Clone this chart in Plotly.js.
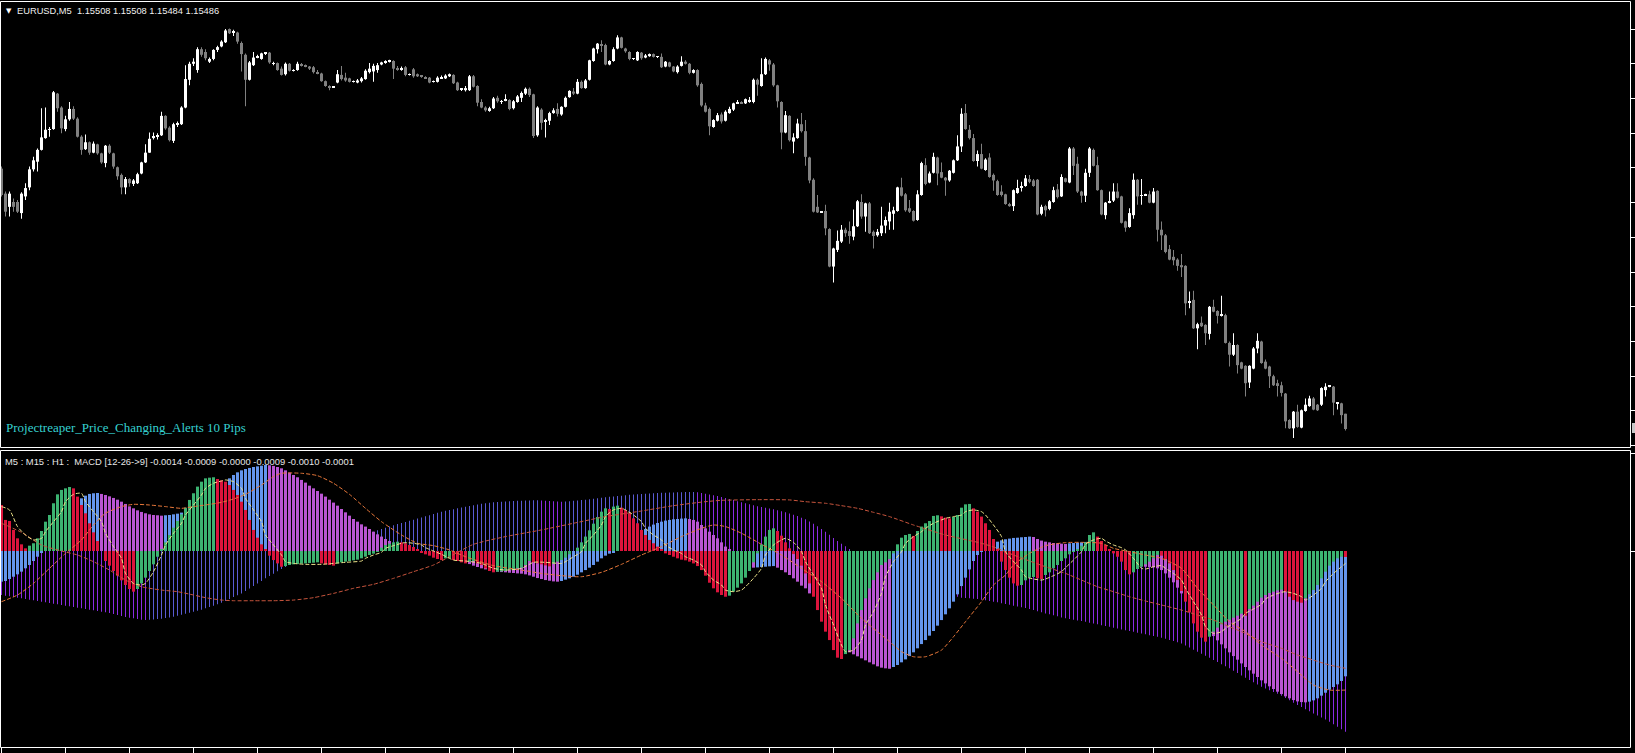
<!DOCTYPE html>
<html><head><meta charset="utf-8">
<script src="https://cdn.plot.ly/plotly-3.0.1.min.js"></script>
<style>html,body{margin:0;padding:0;background:#000;overflow:hidden}#chart{width:1635px;height:753px}</style>
</head><body><div id="chart"></div>
<script>
// ---- EURUSD M5 candles, prices stored as points above 1.15000 ----
const openP = [861,825,806,813,813,797,821,834,860,871,888,905,917,918,969,949,918,932,947,933,907,889,899,884,896,883,869,894,883,863,852,834,846,839,840,854,870,884,905,907,909,937,920,901,924,925,949,989,1012,1003,1033,1029,1015,1019,1032,1037,1043,1062,1057,1057,1042,1025,989,1010,1021,1019,1027,1028,1012,1013,1005,997,1012,1002,1003,1011,1010,1008,1007,1000,998,987,980,978,985,996,992,991,986,985,987,990,1000,1001,1003,1011,1014,1015,1016,1006,1004,1007,996,1004,997,995,993,992,986,986,991,991,994,996,985,975,974,974,994,980,957,949,944,948,963,957,959,960,948,957,963,969,976,968,909,946,929,930,941,947,939,950,964,972,969,986,977,989,1016,1033,1040,1039,1011,1016,1034,1050,1034,1029,1019,1017,1028,1021,1023,1026,1022,1022,1008,1014,1008,1000,1009,1015,1012,999,1003,983,952,947,921,930,939,930,941,946,955,957,955,958,957,989,980,997,1017,1011,981,957,913,937,900,905,925,915,877,845,806,798,800,774,720,744,756,773,771,763,778,813,792,811,770,765,768,779,785,796,800,834,824,804,800,787,823,866,841,855,877,856,848,844,855,873,893,941,917,905,872,882,859,877,852,843,828,824,810,807,826,834,836,846,844,845,796,807,803,813,831,821,847,841,890,868,828,822,855,888,866,830,794,812,815,828,821,785,777,794,845,822,823,824,812,829,773,765,745,734,730,722,721,668,672,631,639,636,623,662,656,649,650,610,593,607,582,577,553,573,602,612,583,576,562,552,549,537,499,487,511,488,512,519,530,521,521,542,547,547,523,523,508];
const highP = [864,828,828,818,816,827,840,864,878,890,948,949,921,973,970,951,937,957,951,935,909,910,900,900,897,884,895,896,884,864,854,849,847,846,855,871,896,913,913,912,943,938,922,927,929,951,1010,1015,1020,1036,1036,1033,1021,1033,1038,1046,1062,1063,1061,1058,1044,1027,1016,1029,1025,1028,1028,1029,1015,1014,1008,1014,1013,1004,1015,1013,1011,1009,1009,1003,999,988,981,980,1003,1009,999,992,988,990,993,1004,1013,1012,1013,1015,1017,1018,1017,1009,1008,1009,998,1006,998,996,994,993,988,994,995,997,998,997,986,977,980,996,996,981,961,951,950,964,966,960,968,961,960,967,972,978,978,969,951,948,933,943,948,955,951,965,974,977,990,988,990,1018,1035,1042,1046,1041,1017,1036,1053,1051,1035,1030,1020,1030,1029,1026,1027,1027,1023,1027,1016,1015,1009,1010,1023,1017,1013,1004,1004,985,956,949,932,941,942,945,950,956,960,958,962,964,991,991,1020,1021,1019,1013,982,958,944,938,912,933,941,931,878,847,823,800,809,775,747,772,780,776,785,802,816,824,812,813,772,774,806,792,812,806,835,848,826,816,801,830,871,876,857,884,878,870,849,859,874,909,948,954,924,911,887,897,876,883,854,845,837,825,812,831,845,842,852,852,846,846,809,809,816,835,839,853,848,892,892,878,829,861,892,890,878,831,813,828,840,840,822,786,804,854,846,846,825,829,833,830,785,767,751,744,732,738,722,684,685,639,648,637,663,672,657,678,652,612,624,608,583,578,578,604,624,613,586,577,564,557,554,538,500,512,521,514,530,534,532,522,546,552,549,548,525,524,508];
const lowP = [821,792,792,799,797,789,816,830,857,857,887,904,907,917,943,912,915,930,931,906,881,888,881,883,881,868,863,882,861,845,824,824,835,836,839,853,869,884,903,903,908,917,900,898,921,924,948,981,1009,999,1022,1017,1013,1017,1029,1036,1042,1055,1052,1041,1001,951,988,1009,1020,1018,1026,1012,1010,1002,995,995,1001,1001,1002,1008,1007,1003,998,997,986,979,974,977,984,988,986,985,985,984,985,989,998,986,999,1010,1012,1014,990,1002,1002,994,995,992,993,992,990,984,985,985,990,990,993,983,973,973,972,973,978,951,948,943,943,947,956,954,958,945,946,956,957,967,964,905,907,917,906,924,940,936,937,949,963,967,968,976,976,988,1015,1027,1029,1010,1010,1015,1033,1034,1028,1017,1018,1016,1018,1020,1022,1021,1021,1006,1007,1007,1000,998,1008,1011,997,998,979,950,942,909,920,929,926,929,940,944,954,954,954,956,955,966,979,996,1002,979,949,889,912,900,883,904,913,865,840,798,797,797,765,719,697,741,754,763,753,758,777,789,770,767,746,763,764,768,773,773,799,821,799,797,785,786,822,837,840,854,837,847,822,842,854,872,885,917,903,871,864,860,858,848,829,822,821,809,806,800,825,828,835,840,835,794,794,792,801,812,818,820,841,840,852,826,812,813,849,864,829,794,788,811,813,818,782,770,776,789,809,809,822,811,811,756,744,739,729,722,714,705,650,660,630,601,633,607,615,654,638,648,609,576,591,566,572,533,545,572,595,580,572,545,548,533,533,487,486,473,488,487,511,518,513,512,519,533,546,506,514,494,484];
const closeP = [823,799,825,806,799,825,833,860,873,888,906,917,918,971,948,919,932,947,933,907,888,899,884,897,883,870,894,884,864,850,834,846,840,844,853,870,884,904,908,909,937,919,902,925,926,949,990,1012,1015,1033,1025,1020,1019,1032,1036,1044,1060,1056,1059,1044,1026,989,1014,1021,1023,1027,1028,1014,1013,1003,996,1012,1002,1003,1012,1009,1008,1005,1000,998,987,980,978,979,997,990,988,986,987,988,991,1002,1005,1009,1010,1014,1016,1017,1005,1004,1006,996,997,994,994,993,991,985,987,992,993,995,997,984,974,976,977,994,979,956,949,945,948,962,958,958,961,947,958,965,970,976,967,908,949,927,931,941,945,940,950,963,973,969,986,977,988,1017,1034,1041,1038,1011,1016,1033,1050,1035,1030,1019,1020,1029,1020,1024,1026,1022,1023,1007,1015,1008,1001,1008,1015,1012,999,1003,981,952,943,922,931,938,929,943,947,955,957,955,961,960,989,982,997,1019,1011,981,958,913,938,902,906,926,915,878,844,799,798,799,775,720,746,757,773,768,764,778,814,792,811,768,764,770,779,787,799,801,834,822,801,799,786,824,869,839,854,878,854,848,844,858,873,893,940,918,905,872,882,861,874,849,844,823,823,810,807,830,833,836,847,842,836,795,806,801,814,830,820,849,842,890,865,828,822,855,890,865,830,795,812,814,828,819,783,776,797,845,821,823,824,812,828,773,765,741,730,729,721,719,667,670,631,637,634,624,662,655,649,651,610,593,607,578,573,552,577,602,613,581,573,562,549,548,538,497,487,511,489,513,521,530,514,513,545,547,548,524,524,506,486];

// ---- MACD values in points (1e-5) ----
const macdM5 = [34.5,23.3,22.5,15.8,9.5,5,2,4,5.8,9.5,15,22,27,35.8,42.5,45.8,47,48,47,40.8,34.5,28.3,20.8,14,7.5,0,-7.5,-11,-15,-18.5,-22,-25.5,-28.5,-30.5,-28.5,-24.3,-20,-15,-10,-4.3,0.8,6.5,12,17.5,22.5,27.5,32.5,38.3,43.3,48.3,52,54.5,55,55.3,54,53,52,49.5,45.8,42,37,30.8,23.3,15.8,10,5,1.5,-3.5,-6.8,-9.3,-11.8,-11.3,-10.5,-10,-9.8,-9.5,-9.3,-9,-8.8,-8.5,-9.3,-10,-10.5,-11,-9.3,-8.5,-8,-7.5,-7,-6.5,-5.5,-4.3,-3,-2,-0.5,2.5,4.5,5.5,6.5,7,6.5,5.8,4.5,3,0.8,-1,-2.5,-3.5,-5,-6,-6.8,-5.5,-5.3,-6.8,-7.5,-8.5,-9.3,-8,-7.5,-9.3,-10.5,-13,-15,-16,-15.5,-15.3,-15,-14.3,-13.5,-13,-12.5,-10.5,-7.5,-8.5,-9.3,-10,-10.8,-11.5,-9.5,-8,-6.8,-5,-2.5,0,2.5,6.5,10.8,15.5,20.5,25.5,29.5,32,31.5,33.3,34,32.5,30.8,28.3,24.5,20.8,15.8,12,8.3,5.8,3.3,0.8,-1.8,-3,-4.3,-5.5,-6.5,-7,-8,-9.3,-11.3,-14.3,-18.5,-23.8,-28,-31,-33,-34.3,-33.5,-30.5,-27.5,-24.3,-20,-15,-8.5,-1.8,5,10.8,15.8,17,15,11.5,6.5,2,-2.3,-6,-11,-16.8,-24.3,-34.3,-44.3,-53,-60.5,-66.8,-74.3,-80,-81,-77.3,-74.3,-65.5,-54.3,-44.3,-35.5,-28,-21.8,-16,-10.5,-8.5,-6,-1.8,5,10,12,12.8,11.3,15,18.3,20.8,22.5,26.3,26.8,26,25,24.5,25.5,27,32.5,35,35.3,32,29.5,25.8,20.8,15.8,9,0.8,-8,-14.3,-20,-24.3,-26,-25.5,-22,-20,-19.5,-20.5,-21,-18,-16,-13,-10.5,-7.5,-5.5,-2.5,-0.5,0.8,4,6.5,12,14,10.8,7.5,4.5,1.5,-1.8,-4.3,-8,-14.3,-17.5,-16,-13.5,-11.8,-10,-8,-5.5,-3,-3.5,-6,-9.3,-14.3,-21.8,-30,-38,-46,-54.3,-60.5,-65,-68,-64.3,-60.5,-57.5,-55,-53,-51.5,-50,-48.5,-47,-48.5,-43.5,-41,-38,-35,-33,-31.5,-30.5,-29.5,-29,-30.5,-34.3,-36.8,-38,-38.8,-35.5,-32.5,-29.3,-25.5,-20.5,-15.5,-11,-8,-5.5,-4.3,-4.5];
const macdM15 = [-23,-22.5,-21,-19.3,-17.5,-15.5,-13,-10.5,-7.5,-4.3,-1,2,5,8.3,12,15.8,20.8,25.8,30.8,35.8,39.5,41.5,42.8,43.3,43.5,42.8,42,41,39.8,38.5,37,35.3,33.5,32,30.5,29.3,28.3,27.5,27,26.8,26.5,26.8,27,27.5,28,28.8,29.5,30.8,32,33.3,34.5,36.5,39,42,45,48.3,51.5,54.5,57,59,60.5,61.5,62.3,63,63.5,64,64.5,64.3,63.8,63,62,60.5,58.8,57,55.3,53.3,51.3,49,47,45,43,40.8,38.5,36.3,34,31.5,29,26.5,24,22,20,18.3,16.5,14.5,12.5,10.8,9,7.5,6,4.5,3.3,2.3,1.5,0.8,0.3,-0.5,-1,-1.5,-2,-2.5,-3,-3.5,-4,-5,-6,-7.3,-8.5,-9.8,-11,-12,-13,-13.8,-14.5,-15,-15.5,-15.8,-16,-16.3,-16.5,-16.8,-17,-17.5,-18.3,-19.3,-20.3,-21,-21.8,-22.3,-22.8,-23,-22.5,-21.5,-20.5,-19.3,-17.8,-16,-14.3,-12.5,-10.5,-8,-5.5,-3.5,-2,-0.8,0.5,2.5,5,7.5,10,12.5,14.8,16.5,18.3,19.8,21,22,22.8,23.3,23.8,24,24.3,24.5,24,23.3,22,19.5,17,14.5,12,9.5,6.5,3.3,0.8,-1.8,-4.3,-6.8,-8.5,-10.5,-12.5,-12.3,-12,-11.8,-11.5,-11.3,-12.5,-14.3,-16,-18,-20.5,-23,-26,-28,-31.8,-33,-38,-45.5,-53,-59.3,-64.3,-68.5,-71.8,-74.3,-76,-77.5,-79,-80.5,-82,-83.5,-85,-86.5,-87.5,-88,-88.3,-87,-85.5,-83.5,-81.3,-78.8,-76,-73,-69.8,-66.8,-63.5,-60,-56,-51.8,-47.5,-43,-38,-32.5,-26.3,-20,-13.8,-7.5,-3,-0.5,2,4,5.8,7,8,8.8,9.3,9.8,10,10.3,10.5,10.8,10.5,9,7.8,7,6.5,6,5.8,5.5,5.3,5.8,6,6.3,6.5,6.8,6.3,5.5,4.5,3.3,2,0.8,-0.5,-2,-3.5,-5.5,-7.5,-9.3,-10.5,-11.3,-11.8,-12,-12.3,-13,-14.3,-16.8,-20,-23.5,-27.5,-31.8,-36,-40.5,-45,-49.3,-53,-56.8,-60.5,-63.8,-67,-70,-73,-76,-78.8,-81.5,-84.3,-87,-89.5,-92,-94.5,-97,-99.3,-101.5,-103.5,-105.5,-107.3,-109,-110.5,-111.8,-112.8,-113.3,-113.5,-113,-112,-110.5,-108.5,-106.3,-104,-102,-100,-97.5,-94];
const macdH1 = [-33,-33.5,-34,-34.5,-35,-35.5,-36,-36.5,-37,-37.5,-38,-38.5,-39,-39.5,-40,-40.5,-41,-41.5,-42,-42.5,-43,-43.5,-44,-44.5,-45,-45.5,-46,-46.5,-47.3,-48,-48.8,-49.5,-50,-50.5,-51,-51.5,-51.8,-51.5,-51.3,-51,-50.8,-50.3,-49.8,-49.3,-48.5,-47.8,-47,-46.3,-45.5,-44.8,-44,-43,-42,-41,-40,-38.8,-37.5,-36,-34.5,-33.2,-31.8,-30,-28.2,-26.3,-24.4,-22.5,-20.5,-18.7,-17,-15.2,-13.5,-12,-10.5,-9,-7.7,-6.3,-5,-3.7,-2.5,-1.2,0.1,1.2,2.3,3.5,4.7,5.8,7,8.1,9.2,10.2,11.3,12.4,13.4,14.5,15.5,16.5,17.5,18.4,19.3,20.2,21,21.8,22.7,23.5,24.3,25.1,26,26.9,27.8,28.7,29.5,30.1,30.7,31.3,32,32.6,33.2,33.8,34.4,34.9,35.4,35.8,36.2,36.5,36.8,37,37.2,37.4,37.5,37.6,37.7,37.8,37.9,38,38.1,37.9,37.7,37.5,37.3,37.1,36.9,37.1,37.3,37.6,37.9,38.2,38.5,38.8,39.2,39.6,40,40.3,40.6,40.9,41.2,41.5,41.8,42.1,42.4,42.6,42.8,43,43.2,43.4,43.5,43.6,43.7,43.8,43.9,44,44.1,44.2,44.25,44.3,44,43.5,43,42.4,41.8,41.2,40.5,39.8,39,38.2,37.4,36.5,35.8,35,34.3,33.5,33,32.5,31.9,31.3,30.6,29.8,29,28.2,27.2,26.2,25,23.8,22.2,20.5,18.5,16.5,14.5,12.2,9.8,7.5,5.5,3.5,1.5,-0.5,-2.5,-4.5,-6.5,-8.5,-10.5,-12.3,-14,-15.8,-17.5,-19,-20.5,-22,-23.5,-24.8,-26,-27.3,-28.3,-29.3,-30.3,-31,-31.8,-32.5,-33,-33.5,-34,-34.3,-35,-35.3,-35.5,-35.8,-36,-36.5,-37,-37.5,-38,-38.5,-39.1,-39.7,-40.3,-41,-41.6,-42.2,-42.8,-43.5,-44.3,-45.1,-45.9,-46.8,-47.5,-48.2,-49,-49.8,-50.4,-51,-51.6,-52.2,-52.5,-53.1,-53.8,-54.4,-55,-55.6,-56.3,-56.9,-57.5,-58.1,-58.8,-59.4,-60,-60.6,-61.3,-61.9,-62.5,-63.1,-63.8,-64.4,-65,-65.8,-66.7,-67.5,-68.5,-69.3,-70.8,-72.4,-74,-75.5,-77,-78.6,-80.1,-81.8,-83.3,-84.9,-86.4,-88,-89.8,-91.5,-93.3,-95,-96.7,-98.4,-100.1,-101.8,-103.1,-104.4,-105.8,-107.1,-108.5,-110.2,-112,-113.8,-115.5,-117,-118.6,-120.1,-121.8,-123.3,-124.9,-126.4,-128,-129.9,-131.8,-133.6,-135.5];

// signal lines: bar index + value (points)
const sigM5Idx = [0,2,4,6,8,10,11,13,15,16,18,20,21,23,25,26,28,30,31,33,35,36,38,40,41,43,45,46,48,50,51,53,55,56,58,60,61,63,65,66,68,70,71,73,76,80,83,86,90,91,93,95,96,98,100,101,103,105,106,108,110,113,116,120,123,126,130,133,136,140,141,143,145,146,148,150,151,153,155,156,158,160,161,163,165,166,168,170,171,173,175,176,178,180,181,183,185,186,188,190,191,193,195,196,198,200,201,203,205,206,208,210,211,213,215,216,218,220,221,223,225,226,228,230,231,233,235,236,238,240,241,243,245,246,248,250,251,253,255,256,258,260,261,263,265,266,268,270,271,273,275,276,278,280,281,283,285,286,288,290,291,293,295,296,298,300,301,303,305,306,308,310,311,313,315,316,318,320,321,323,325,326,328,330,331,333,335,336];
const sigM5Val = [33.3,30.8,18.3,12,8.3,9.5,14.5,22,29.5,37,42.5,43.3,37,29.5,22,13.3,3.3,-5.5,-16.8,-24.3,-25.5,-24.3,-15.5,-3,4.5,13.3,20.8,27,34.5,42,47,50.8,52.5,53.3,52,47,39.5,30.8,22,12,4.5,-3,-8,-9.3,-10,-10,-9.3,-8.5,-7.5,-5.5,-3,-1,2,4,5.8,6.3,5.8,4.5,2.5,0,-2.5,-6.8,-7.5,-9.3,-13,-14.3,-13,-8.5,-8.5,-9.3,-8,-4.3,-0.5,5.8,12,19.5,25.8,30.8,32,30.8,27,22,17,12,8.3,4.5,0.8,-1.8,-4.3,-6.8,-10.5,-15.5,-21.8,-25.5,-29.3,-30.5,-29.3,-26.8,-20.5,-13,-3,4.5,8.3,9.5,6.5,-0.5,-8,-18,-28,-40.5,-55.5,-70.5,-75.5,-74.3,-66.8,-55.5,-45.5,-31.8,-19.3,-8,-0.5,5.8,10.8,14.5,17,20.8,23.3,24.5,25.8,27,29.5,30.8,29.5,27,19.5,10.8,-0.5,-8,-14.3,-19.3,-21,-21.8,-21,-18.5,-15.5,-12.5,-6.8,-0.5,5,8.3,9.5,7.5,4.5,2.5,0.8,-5.5,-13,-13.5,-11.8,-11,-13,-16.8,-21.8,-28,-38,-48,-56.8,-61.8,-60.5,-58,-54.3,-50.5,-46.8,-43.5,-40,-36,-33,-31,-30.5,-31.8,-34.3,-36.8,-33,-28,-23,-16.8,-11.8,-9.3];
const sigM15Idx = [0,4,8,12,16,20,23,26,30,33,37,41,45,48,51,55,58,61,65,68,70,75,79,83,87,91,95,100,104,108,112,116,123,130,135,140,145,150,155,160,165,170,175,178,181,185,190,195,200,205,210,215,220,222,225,228,231,235,238,241,245,248,251,253,257,261,266,270,275,278,282,286,290,295,299,303,307,311,315,320,324,328,332,336];
const sigM15Val = [-38,-33,-24.3,-13,-1.8,8.3,19.5,28.3,33.3,35,34.5,33.3,32,33.3,34.5,36.5,39,42.5,49.5,55.8,58.3,58.3,56.5,50.8,42.5,32,22,12,5.8,4,0.8,-4.3,-11,-14.3,-16.8,-18.5,-19.3,-16,-10,-3,3.3,10.8,17,19.5,18.3,13.3,5,-3,-13,-23,-35.5,-50.5,-63,-68,-75.5,-79.3,-79.3,-74.3,-64.3,-53,-38,-25.5,-18,-10.5,-1.8,4,6.3,6.5,5.8,2,-0.5,-3,-5.5,-13,-28,-40.5,-53,-60.5,-70.5,-80.5,-90.5,-100.5,-104.3,-104.3];
const sigH1Idx = [0,5,10,15,19,23,27,31,35,40,44,48,51,55,58,63,68,73,78,83,88,93,98,103,108,112,118,126,135,143,151,160,168,176,180,189,197,201,206,210,214,218,222,228,236,245,249,253,257,261,266,270,274,278,282,286,290,295,299,303,307,311,315,320,324,328,332,336];
const sigH1Val = [20.8,14,4.5,0,-3,-8,-14.3,-21.8,-26.8,-29.3,-30.5,-33,-35,-36.8,-37.3,-37.3,-37.3,-36.8,-35,-31.8,-28,-25,-20.5,-15.5,-10.5,-4.3,5,10.8,15.8,20.8,25.8,30,34,37,38,38.5,38.3,37,35.8,34,32,29,25.8,19.5,12,5.8,2,-3,-7.5,-11.8,-16.8,-21.8,-26.8,-30.5,-34.3,-37.5,-40.5,-44.3,-48,-51.8,-56.8,-61.8,-68,-73,-78,-81.8,-85.5,-88];

const headerText = "EURUSD,M5\u00a0\u00a01.15508 1.15508 1.15484 1.15486";
const alertText = "Projectreaper_Price_Changing_Alerts 10 Pips";
const macdText = "M5 : M15 : H1 :\u00a0\u00a0MACD [12-26->9] -0.0014 -0.0009 -0.0000 -0.0009 -0.0010 -0.0001";

// ---------------------------------------------------------------
const PT = 1e-5, BASE = 1.15;
const N = closeP.length;
const idx = Array.from({length: N}, (_, i) => i);
const W = 1635, H = 753;
const px = x => x / W, py = y => 1 - y / H;

function trendColors(v, up, down) {
  const c = [];
  for (let i = 0; i < v.length; i++) {
    if (i === 0) { c.push(v[1] >= v[0] ? up : down); continue; }
    if (v[i] > v[i-1]) c.push(up);
    else if (v[i] < v[i-1]) c.push(down);
    else c.push(c[i-1]);
  }
  return c;
}

const candleCol = idx.map(i => closeP[i] >= openP[i] ? '#ffffff' : '#808080');
const wicks = {
  type: 'bar', x: idx, xaxis: 'x', yaxis: 'y2',
  base: lowP.map(v => BASE + v * PT),
  y: idx.map(i => Math.max(highP[i] - lowP[i], 0.3) * PT),
  width: 0.25, marker: {color: candleCol, line: {width: 0}}, hoverinfo: 'skip'
};
const bodies = {
  type: 'bar', x: idx, xaxis: 'x', yaxis: 'y2',
  base: idx.map(i => BASE + Math.min(openP[i], closeP[i]) * PT),
  y: idx.map(i => Math.max(Math.abs(closeP[i] - openP[i]), 0.3) * PT),
  width: 0.75, marker: {color: candleCol, line: {width: 0}}, hoverinfo: 'skip'
};

const h1Bars = {
  type: 'bar', x: idx, y: macdH1.map(v => v * PT), xaxis: 'x', yaxis: 'y',
  width: 0.25, marker: {color: trendColors(macdH1, '#5a5ad2', '#8a2be2'), line: {width: 0}}, hoverinfo: 'skip'
};
const m15Bars = {
  type: 'bar', x: idx, y: macdM15.map(v => v * PT), xaxis: 'x', yaxis: 'y',
  width: 0.75, marker: {color: trendColors(macdM15, '#6495ed', '#ba55d3'), line: {width: 0}}, hoverinfo: 'skip'
};
const m5Bars = {
  type: 'bar', x: idx, y: macdM5.map(v => v * PT), xaxis: 'x', yaxis: 'y',
  width: 0.75, marker: {color: trendColors(macdM5, '#3cb371', '#dc143c'), line: {width: 0}}, hoverinfo: 'skip'
};
function sigLine(ix, val, color) {
  return {type: 'scatter', mode: 'lines', x: ix, y: val.map(v => v * PT), xaxis: 'x', yaxis: 'y',
    line: {color: color, width: 1, dash: '4px,2px', shape: 'spline', smoothing: 0.6}, hoverinfo: 'skip'};
}

const xTicks = [];
for (let k = 0; k < N; k += 16) xTicks.push(k);

const layout = {
  width: W, height: H,
  paper_bgcolor: '#000000', plot_bgcolor: '#000000',
  margin: {l: 0, r: 0, t: 0, b: 0},
  barmode: 'overlay', showlegend: false, hovermode: false,
  xaxis: {domain: [0, 1630 / W], range: [-0.375, 407.125], anchor: 'y',
    showgrid: false, zeroline: false, showline: false,
    tickmode: 'array', tickvals: xTicks, ticks: 'outside', ticklen: 5, tickwidth: 1, tickcolor: '#ffffff',
    showticklabels: false, fixedrange: true},
  yaxis: {domain: [py(747), py(451)], range: [-147 * PT, 75 * PT], anchor: 'x', side: 'right',
    showgrid: false, zeroline: false, showline: false,
    tickmode: 'array', tickvals: [0, 73.5 * PT], ticks: 'outside', ticklen: 4, tickcolor: '#ffffff',
    showticklabels: false, fixedrange: true},
  yaxis2: {domain: [py(447), py(2)], range: [1.154601, 1.16101], anchor: 'x', side: 'right',
    showgrid: false, zeroline: false, showline: false,
    tick0: 1.15512, dtick: 0.0005, ticks: 'outside', ticklen: 4, tickcolor: '#ffffff',
    showticklabels: false, fixedrange: true},
  shapes: [
    {type: 'rect', xref: 'paper', yref: 'paper', x0: px(0.5), x1: px(1630.5), y0: py(1.5), y1: py(447.5), line: {color: '#ffffff', width: 1}},
    {type: 'rect', xref: 'paper', yref: 'paper', x0: px(0.5), x1: px(1630.5), y0: py(450.5), y1: py(747.5), line: {color: '#ffffff', width: 1}},
    {type: 'rect', xref: 'paper', yref: 'paper', x0: px(1632), x1: px(1635), y0: py(423), y1: py(433), fillcolor: '#c8c8c8', line: {width: 0}}
  ],
  annotations: [
    {xref: 'paper', yref: 'paper', x: px(4), y: py(11), xanchor: 'left', yanchor: 'middle', showarrow: false,
      text: '\u25BC', font: {family: 'DejaVu Sans', size: 7, color: '#ffffff'}},
    {xref: 'paper', yref: 'paper', x: px(15), y: py(11), xanchor: 'left', yanchor: 'middle', showarrow: false,
      text: headerText, font: {family: 'Liberation Sans', size: 9.3, color: '#f0f0f0'}},
    {xref: 'paper', yref: 'paper', x: px(4), y: py(427), xanchor: 'left', yanchor: 'middle', showarrow: false,
      text: alertText, font: {family: 'Liberation Serif', size: 13, color: '#36d0d0'}},
    {xref: 'paper', yref: 'paper', x: px(3), y: py(461), xanchor: 'left', yanchor: 'middle', showarrow: false,
      text: macdText, font: {family: 'Liberation Sans', size: 9.4, color: '#e6e6e6'}}
  ]
};

const traces = [wicks, bodies, h1Bars, m15Bars, m5Bars,
  sigLine(sigH1Idx, sigH1Val, '#c8553d'),
  sigLine(sigM15Idx, sigM15Val, '#e8783a'),
  sigLine(sigM5Idx, sigM5Val, '#f0e68c')];

Plotly.newPlot('chart', traces, layout, {displayModeBar: false, staticPlot: false});
</script>
</body></html>
